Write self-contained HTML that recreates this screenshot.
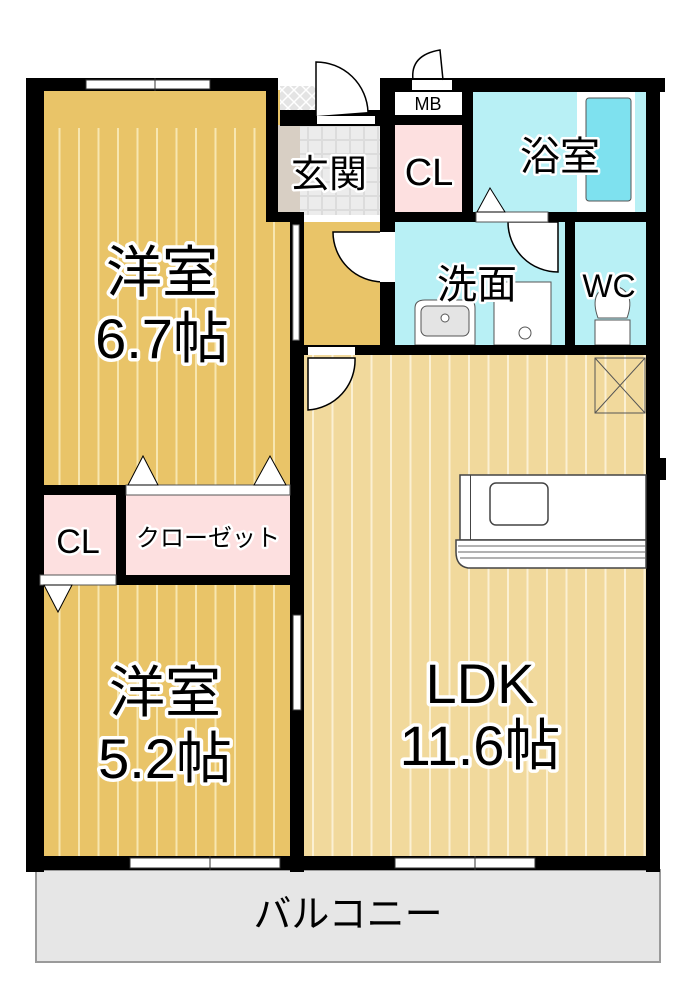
<!DOCTYPE html>
<html><head><meta charset="utf-8"><style>
html,body{margin:0;padding:0;background:#fff;width:700px;height:1000px;overflow:hidden}
text{font-family:"Liberation Sans","Noto Sans CJK JP",sans-serif;paint-order:stroke;stroke:#fff;stroke-linejoin:round}
</style></head><body>
<svg width="700" height="1000" viewBox="0 0 700 1000" xmlns="http://www.w3.org/2000/svg">
<defs>
<pattern id="w1" width="19.5" height="10" patternUnits="userSpaceOnUse"><rect width="19.5" height="10" fill="#e9c468"/><rect x="0" width="2" height="10" fill="#f7e6b0"/></pattern>
<pattern id="w2" width="19.5" height="10" patternUnits="userSpaceOnUse"><rect width="19.5" height="10" fill="#f1d99c"/><rect x="0" width="2" height="10" fill="#fbf0d2"/></pattern>
<pattern id="tile" width="12" height="12" patternUnits="userSpaceOnUse"><rect width="12" height="12" fill="#e4e4e4"/><path d="M0 0L12 12M12 0L0 12" stroke="#fff" stroke-width="1.5"/></pattern>
<pattern id="sq" width="14" height="14" patternUnits="userSpaceOnUse"><rect width="14" height="14" fill="#dcdcdc"/><rect x="1" y="1" width="12" height="12" fill="#ececec"/></pattern>
</defs>
<rect x="36" y="870" width="624" height="92" fill="#e6e6e6" stroke="#9a9a9a" stroke-width="2"/>
<text x="348" y="927" font-size="38" text-anchor="middle" stroke-width="0">バルコニー</text>
<rect x="40" y="90" width="250" height="400" fill="url(#w1)"/>
<rect x="46" y="90" width="222" height="38" fill="#e9c468"/>
<rect x="40" y="585" width="252" height="272" fill="url(#w1)"/>
<rect x="303" y="222" width="80" height="125" fill="#e9c468"/>
<rect x="303" y="353" width="345" height="504" fill="url(#w2)"/>
<rect x="278" y="125" width="104" height="90" fill="url(#sq)"/>
<rect x="278" y="125" width="22" height="90" fill="#d8cfc4"/>
<rect x="280" y="86" width="36" height="30" fill="url(#tile)"/>
<rect x="40" y="494" width="76" height="82" fill="#fde0e0"/>
<rect x="124" y="494" width="166" height="82" fill="#fde0e0"/>
<rect x="395" y="125" width="67" height="88" fill="#fde0e0"/>
<rect x="395" y="92" width="67" height="23" fill="#fff"/>
<rect x="472" y="90" width="176" height="124" fill="#b8f0f5"/>
<rect x="577" y="92" width="58" height="120" fill="#fff"/>
<rect x="586" y="98" width="45" height="103" rx="3" fill="#7ee1ef" stroke="#555" stroke-width="1"/>
<rect x="395" y="222" width="172" height="125" fill="#b8f0f5"/>
<rect x="575" y="222" width="73" height="125" fill="#b8f0f5"/>
<rect x="494" y="282" width="57" height="63" fill="#fff" stroke="#555" stroke-width="1"/>
<circle cx="525" cy="333" r="6" fill="#fff" stroke="#555"/>
<path d="M415 345 L415 308 Q415 300 425 300 L468 300 Q475 300 475 308 L475 345Z" fill="#fff" stroke="#555"/>
<rect x="421" y="306" width="48" height="30" rx="6" fill="#e4e4e4" stroke="#555"/>
<circle cx="445" cy="318" r="4" fill="#fff" stroke="#555"/>
<path d="M595 345 L595 320 L630 320 L630 345Z" fill="#fff" stroke="#555"/>
<path d="M598 318 Q588 290 612 285 Q637 290 627 318Z" fill="#fff" stroke="#555"/>
<g fill="#000">
<rect x="26" y="78" width="18" height="794"/>
<rect x="26" y="78" width="250" height="13"/>
<rect x="266" y="78" width="12" height="144"/>
<rect x="266" y="212" width="38" height="10"/>
<rect x="290" y="212" width="14" height="660"/>
<rect x="26" y="856" width="634" height="14"/>
<rect x="380" y="78" width="285" height="14"/>
<rect x="646" y="78" width="14" height="794"/>
<rect x="650" y="458" width="16" height="22"/>
<rect x="380" y="78" width="15" height="277"/>
<rect x="462" y="92" width="11" height="124"/>
<rect x="380" y="212" width="268" height="10"/>
<rect x="395" y="115" width="67" height="10"/>
<rect x="280" y="110" width="102" height="16"/>
<rect x="565" y="222" width="10" height="125"/>
<rect x="290" y="345" width="370" height="10"/>
<rect x="26" y="485" width="100" height="10"/>
<rect x="116" y="485" width="10" height="100"/>
<rect x="116" y="575" width="180" height="10"/>
</g>
<rect x="86" y="80" width="124" height="9" fill="#fff" stroke="#333"/><line x1="155" y1="78" x2="155" y2="91" stroke="#333"/>
<rect x="130" y="858" width="150" height="10" fill="#fff" stroke="#333"/><line x1="210" y1="856" x2="210" y2="870" stroke="#333"/>
<rect x="395" y="858" width="140" height="10" fill="#fff" stroke="#333"/><line x1="475" y1="856" x2="475" y2="870" stroke="#333"/>
<rect x="293" y="615" width="8" height="95" fill="#fff" stroke="#333"/>
<rect x="293" y="225" width="6" height="115" fill="#fff" stroke="#888"/>
<rect x="317" y="116" width="58" height="8" fill="#fff"/>
<path d="M316 116 L316 62 A52 52 0 0 1 368 112" fill="#fff" stroke="#000" stroke-width="1.5"/>
<rect x="412" y="80" width="40" height="10" fill="#fff"/>
<path d="M413 80 Q410 55 440 50 L443 80" fill="none" stroke="#000" stroke-width="1.5"/>
<path d="M383 232 L333 232 A50 50 0 0 0 383 282Z" fill="#fff" stroke="#000" stroke-width="1.5"/>
<rect x="380" y="232" width="15" height="50" fill="#fff"/>
<path d="M308 358 L308 410 A50 50 0 0 0 355 358Z" fill="#fff" stroke="#000" stroke-width="1.5"/>
<rect x="308" y="347" width="47" height="8" fill="#fff"/>
<path d="M508 222 A50 50 0 0 0 558 272 L558 222Z" fill="#fff" stroke="#000" stroke-width="1.5"/>
<rect x="476" y="212" width="72" height="10" fill="#fff" stroke="#555"/>
<path d="M477 212 L490 188 L505 212Z" fill="#fff" stroke="#000"/>
<rect x="595" y="358" width="50" height="55" fill="none" stroke="#555"/><path d="M595 358L645 413M645 358L595 413" stroke="#555"/>
<rect x="126" y="485" width="164" height="10" fill="#fff" stroke="#555"/>
<path d="M128 485 L143 456 L158 485Z M254 485 L270 456 L286 485Z" fill="#fff" stroke="#000"/>
<rect x="40" y="575" width="76" height="10" fill="#fff" stroke="#555"/>
<path d="M44 585 L58 612 L72 585Z" fill="#fff" stroke="#000"/>
<rect x="460" y="475" width="186" height="65" fill="#fff" stroke="#444" stroke-width="1.5"/>
<rect x="470" y="475" width="1" height="65" fill="#444"/>
<rect x="490" y="483" width="58" height="42" rx="6" fill="#fff" stroke="#444" stroke-width="1.5"/>
<path d="M456 540 L646 540 L646 568 L468 568 Q456 566 456 552Z" fill="#fff" stroke="#444" stroke-width="1.5"/>
<path d="M458 546 L646 546 M458 552 L646 552 M460 558 L646 558" stroke="#666" stroke-width="1"/>
<g font-size="56" stroke-width="7" text-anchor="middle">
<text x="162" y="292">洋室</text>
<text x="162" y="358">6.7帖</text>
<text x="165" y="712">洋室</text>
<text x="165" y="778">5.2帖</text>
<text x="480" y="703">LDK</text>
<text x="480" y="765">11.6帖</text>
</g>
<g stroke-width="5" text-anchor="middle">
<text x="329" y="187" font-size="38">玄関</text>
<text x="429" y="185" font-size="38">CL</text>
<text x="560" y="170" font-size="40">浴室</text>
<text x="477" y="298" font-size="40">洗面</text>
<text x="609" y="297" font-size="32">WC</text>
<text x="78" y="553" font-size="34">CL</text>
<text x="208" y="546" font-size="24">クローゼット</text>
<text x="428" y="110" font-size="18" stroke-width="0">MB</text>
</g>
</svg>
</body></html>
